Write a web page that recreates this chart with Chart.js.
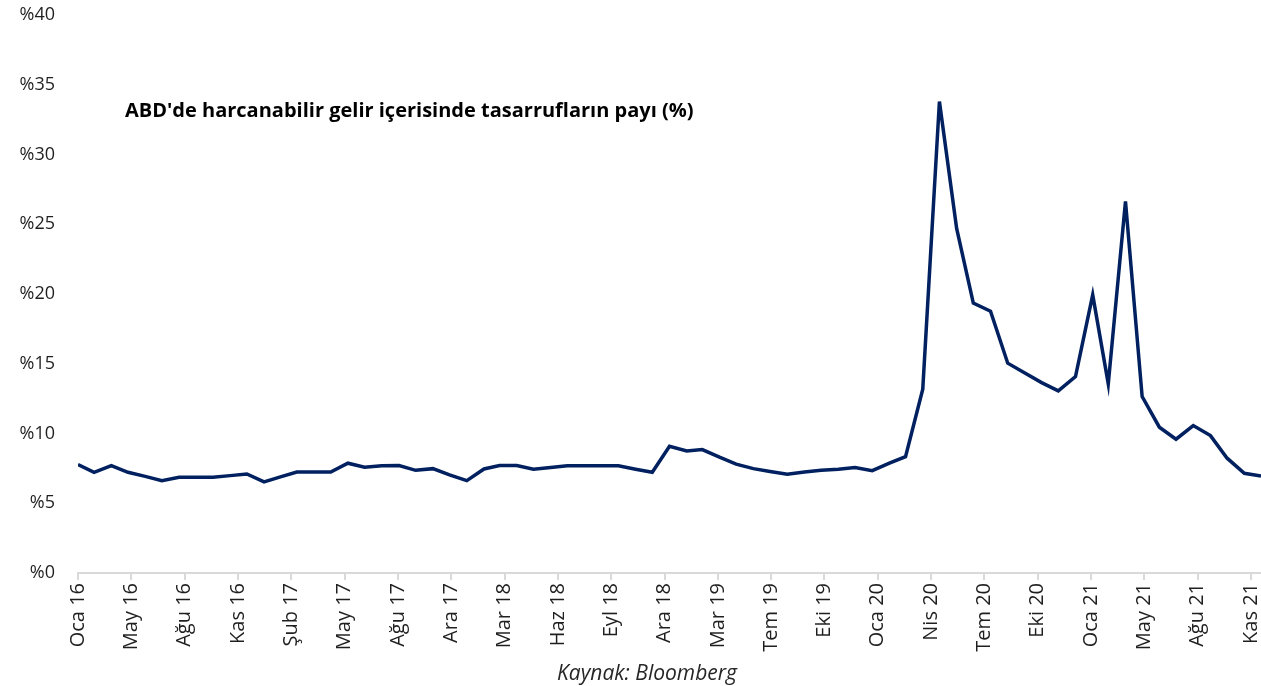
<!DOCTYPE html>
<html lang="tr">
<head>
<meta charset="utf-8">
<title>ABD tasarruf oranı</title>
<script src="https://cdn.jsdelivr.net/npm/chart.js@4"></script>
<style>
    body { margin: 0; background: #fff; }
    .wrap { position: relative; width: 1261px; height: 686px; }
    .chart-title {
        position: absolute; left: 125px; top: 96px;
        font: bold 20px "Open Sans", sans-serif; color: #000;
        white-space: nowrap;
    }
    .chart-source {
        position: absolute; left: 0; width: 1294px; top: 658px;
        text-align: center;
        font: italic 21px "Open Sans", sans-serif; color: #262626;
    }
</style>
</head>
<body>
<div class="wrap">
    <canvas id="savingsChart"></canvas>
    <div class="chart-title">ABD'de harcanabilir gelir içerisinde tasarrufların payı (%)</div>
    <div class="chart-source">Kaynak: Bloomberg</div>
</div>
<script>
const trMonths = ['Oca', 'Şub', 'Mar', 'Nis', 'May', 'Haz', 'Tem', 'Ağu', 'Eyl', 'Eki', 'Kas', 'Ara'];

// aylık gözlemler, Oca 16 - Kas 21
const categories = [
    'Oca 16', 'Şub 16', 'Mar 16', 'Nis 16', 'May 16', 'Haz 16', 'Tem 16', 'Ağu 16', 'Eyl 16', 'Eki 16', 'Kas 16', 'Ara 16',
    'Oca 17', 'Şub 17', 'Mar 17', 'Nis 17', 'May 17', 'Haz 17', 'Tem 17', 'Ağu 17', 'Eyl 17', 'Eki 17', 'Kas 17', 'Ara 17',
    'Oca 18', 'Şub 18', 'Mar 18', 'Nis 18', 'May 18', 'Haz 18', 'Tem 18', 'Ağu 18', 'Eyl 18', 'Eki 18', 'Kas 18', 'Ara 18',
    'Oca 19', 'Şub 19', 'Mar 19', 'Nis 19', 'May 19', 'Haz 19', 'Tem 19', 'Ağu 19', 'Eyl 19', 'Eki 19', 'Kas 19', 'Ara 19',
    'Oca 20', 'Şub 20', 'Mar 20', 'Nis 20', 'May 20', 'Haz 20', 'Tem 20', 'Ağu 20', 'Eyl 20', 'Eki 20', 'Kas 20', 'Ara 20',
    'Oca 21', 'Şub 21', 'Mar 21', 'Nis 21', 'May 21', 'Haz 21', 'Tem 21', 'Ağu 21', 'Eyl 21', 'Eki 21', 'Kas 21'
];

const savingsRate = [
    7.77, 7.22, 7.70, 7.22, 6.93, 6.62, 6.86, 6.86, 6.86, 6.98, 7.10, 6.53,
    6.91, 7.24, 7.24, 7.24, 7.87, 7.58, 7.68, 7.70, 7.36, 7.48, 7.03, 6.62,
    7.46, 7.70, 7.70, 7.44, 7.56, 7.68, 7.68, 7.68, 7.68, 7.44, 7.22, 9.09,
    8.75, 8.85, 8.30, 7.80, 7.48, 7.27, 7.08, 7.24, 7.36, 7.44, 7.56, 7.34,
    7.87, 8.34, 13.18, 33.80, 24.70, 19.35, 18.77, 15.04, 14.35, 13.65, 13.06, 14.08,
    19.94, 13.56, 26.64, 12.65, 10.45, 9.59, 10.57, 9.85, 8.23, 7.15, 6.96
];

// eksen etiketleri her 96 günde bir (tarih ekseni)
const tickLabels = [
    'Oca 16', 'May 16', 'Ağu 16', 'Kas 16', 'Şub 17', 'May 17', 'Ağu 17', 'Ara 17',
    'Mar 18', 'Haz 18', 'Eyl 18', 'Ara 18', 'Mar 19', 'Tem 19', 'Eki 19', 'Oca 20',
    'Nis 20', 'Tem 20', 'Eki 20', 'Oca 21', 'May 21', 'Ağu 21', 'Kas 21'
];
const tickStepDays = 96;

// ay sonu tarihi -> ilk gözlemden itibaren gün
function monthEnd(label) {
    const [m, y] = label.split(' ');
    return Date.UTC(2000 + Number(y), trMonths.indexOf(m) + 1, 0);
}
const day0 = monthEnd(categories[0]);
const dayOf = label => (monthEnd(label) - day0) / 86400000;

const points = categories.map((c, i) => ({ x: dayOf(c), y: savingsRate[i] }));

Chart.defaults.font.family = '"Open Sans", sans-serif';
Chart.defaults.font.size = 18;
Chart.defaults.color = '#1f1f1f';

new Chart(document.getElementById('savingsChart'), {
    type: 'line',
    data: {
        datasets: [{
            data: points,
            borderColor: '#002060',
            borderWidth: 3.5,
            pointRadius: 0,
            fill: false,
            tension: 0
        }]
    },
    options: {
        responsive: true,
        maintainAspectRatio: false,
        animation: false,
        layout: { padding: { top: 15, bottom: 30, left: 0, right: 0 } },
        plugins: { legend: { display: false }, tooltip: { enabled: false } },
        scales: {
            x: {
                type: 'linear',
                min: 0,
                max: dayOf(categories[categories.length - 1]),
                afterBuildTicks: scale => {
                    scale.ticks = tickLabels.map((_, i) => ({ value: i * tickStepDays }));
                },
                afterFit: scale => {
                    scale.height = 83;
                    scale.paddingLeft = 0;
                    scale.paddingRight = 0;
                },
                ticks: {
                    autoSkip: false,
                    minRotation: 90,
                    maxRotation: 90,
                    padding: 3,
                    font: { size: 20 },
                    callback: (value, index) => tickLabels[index]
                },
                grid: { drawOnChartArea: false, drawTicks: true, tickLength: 7, color: '#d9d9d9', lineWidth: 2 },
                border: { display: true, color: '#d9d9d9', width: 2 }
            },
            y: {
                min: 0,
                max: 40,
                afterFit: scale => {
                    scale.width = 78;
                    scale.paddingTop = 0;
                    scale.paddingBottom = 0;
                },
                ticks: {
                    stepSize: 5,
                    padding: 15,
                    callback: v => '%' + v
                },
                grid: { display: false },
                border: { display: false }
            }
        }
    }
});
</script>
</body>
</html>
